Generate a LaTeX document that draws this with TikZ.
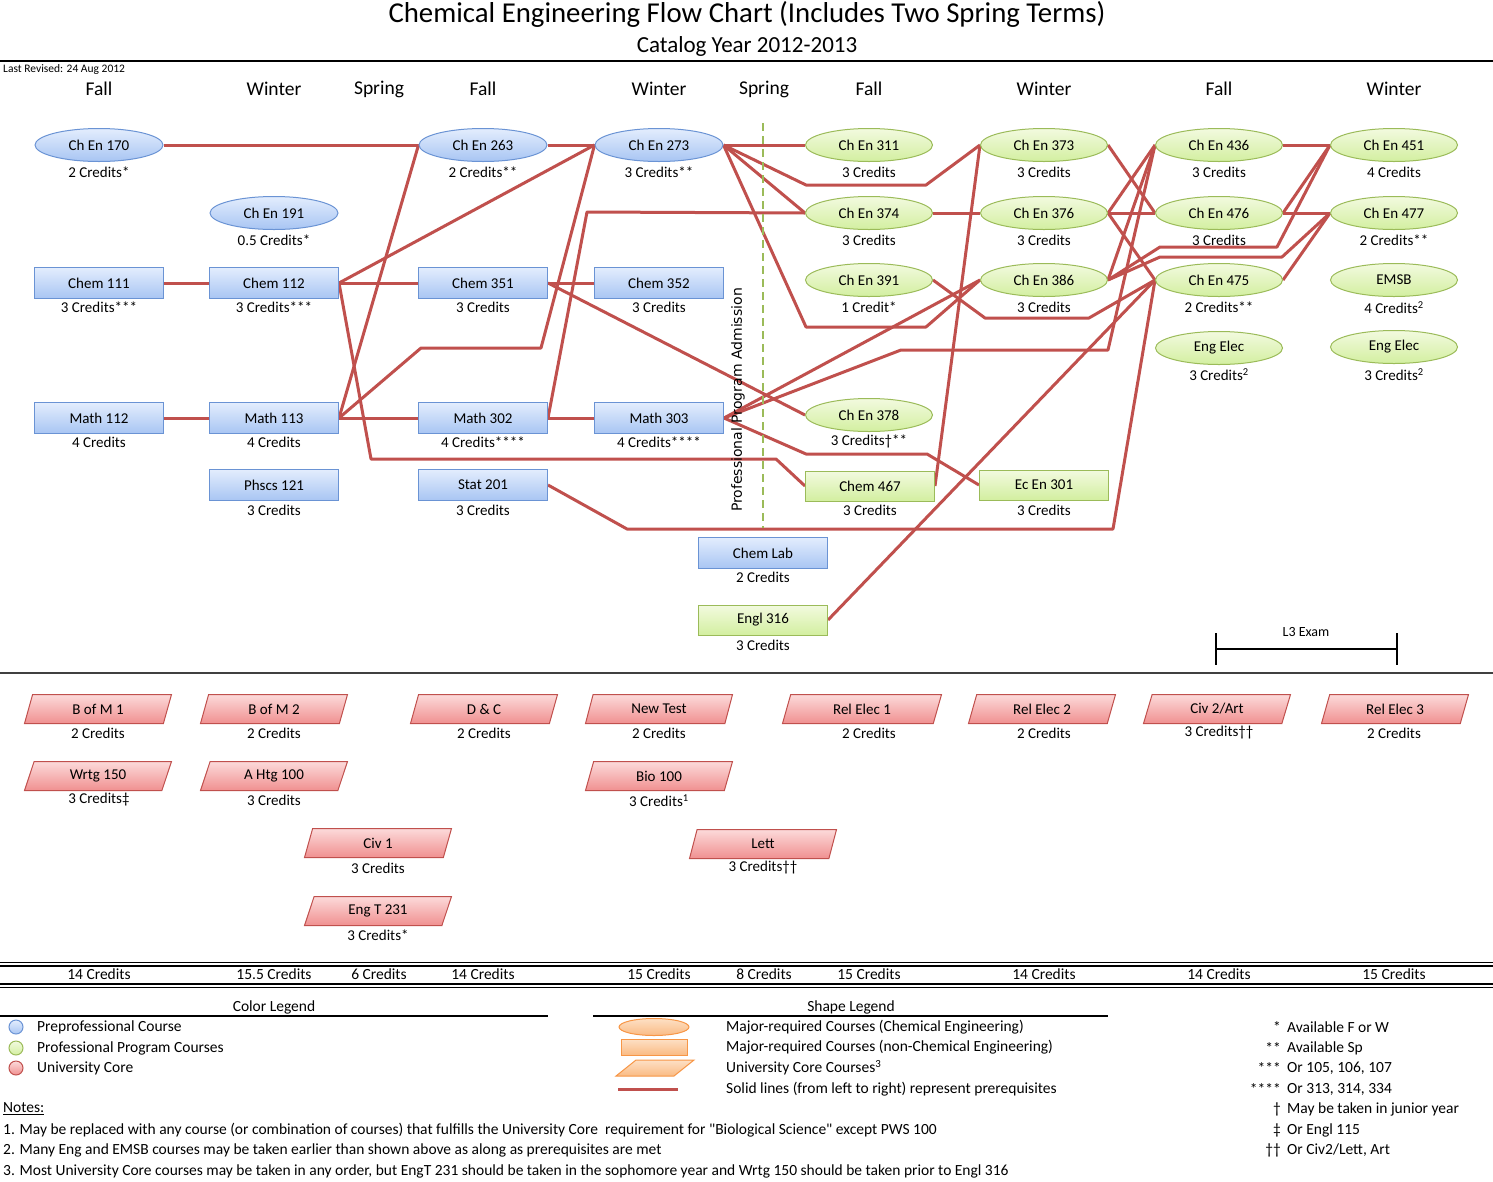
\documentclass[tikz,border=0pt]{standalone}
\usepackage{fontspec}
\setmainfont{Carlito}
\newfontfamily\carlplain{Carlito}
\newfontfamily\dejavu{DejaVu Sans}
\usetikzlibrary{shapes.geometric}
\pgfdeclarelayer{bg}
\pgfsetlayers{bg,main}
\definecolor{blueborder}{HTML}{6A93D4}
\definecolor{bluetop}{HTML}{E3EDFD}
\definecolor{bluebot}{HTML}{A8C5F3}
\definecolor{greenborder}{HTML}{9BBB59}
\definecolor{greentop}{HTML}{F2FADF}
\definecolor{greenbot}{HTML}{D3EFA0}
\definecolor{redborder}{HTML}{C0504D}
\definecolor{redtop}{HTML}{FCDADA}
\definecolor{redbot}{HTML}{F09090}
\definecolor{oraborder}{HTML}{F79646}
\definecolor{oratop}{HTML}{FDE0C5}
\definecolor{orabot}{HTML}{FABB84}
\definecolor{conncol}{HTML}{C0504D}
\definecolor{rulegray}{HTML}{404040}
\begin{document}
\begin{tikzpicture}[x=1pt,y=-1pt,
  base/.style={font=\fontsize{15}{18}\selectfont, inner sep=0pt, line width=1pt},
  bell/.style={base, ellipse, draw=blueborder, top color=bluetop, bottom color=bluebot, minimum width=128, minimum height=33},
  brect/.style={base, rectangle, draw=blueborder, top color=bluetop, bottom color=bluebot, minimum width=129, minimum height=31},
  gell/.style={base, ellipse, draw=greenborder, top color=greentop, bottom color=greenbot, minimum width=127, minimum height=33},
  grect/.style={base, rectangle, draw=greenborder, top color=greentop, bottom color=greenbot, minimum width=129, minimum height=30},
  core/.style={base, trapezium, trapezium left angle=52, trapezium right angle=128, trapezium stretches body, draw=redborder, top color=redtop, bottom color=redbot, minimum width=147, minimum height=29},
  cred/.style={font=\fontsize{15}{18}\selectfont, inner sep=0pt},
  season/.style={font=\fontsize{19.5}{22}\selectfont, inner sep=0pt},
  tot/.style={font=\fontsize{15.5}{18}\selectfont, inner sep=0pt},
  txt/.style={font=\fontsize{15.5}{18}\selectfont, inner sep=0pt, anchor=west},
  conn/.style={draw=conncol, line width=3pt, line join=round}
]
\useasboundingbox (0,0) rectangle (1493,1181);

% Titles
\node[inner sep=0pt, font=\fontsize{28.8}{32}\selectfont] (title) at (747,14) {Chemical Engineering Flow Chart (Includes Two Spring Terms)};
\node[inner sep=0pt, font=\fontsize{23}{26}\selectfont] (subtitle) at (747,46) {Catalog Year 2012-2013};
\draw[line width=2.5pt] (0,61) -- (1493,61);
\node[inner sep=0pt, anchor=west, font=\fontsize{11.5}{13}\selectfont] (rev) at (3,69) {Last Revised: 24 Aug 2012};

% Seasons
\node[season] (s1) at (99,89) {Fall};
\node[season] (s2) at (274,89) {Winter};
\node[season] (s3) at (379,89) {Spring};
\node[season] (s4) at (483,89) {Fall};
\node[season] (s5) at (659,89) {Winter};
\node[season] (s6) at (764,89) {Spring};
\node[season] (s7) at (869,89) {Fall};
\node[season] (s8) at (1044,89) {Winter};
\node[season] (s9) at (1219,89) {Fall};
\node[season] (s10) at (1394,89) {Winter};

% Professional program admission divider
\draw[greenborder, line width=2pt, dash pattern=on 8pt off 5pt] (763,123) -- (763,528);
\node[rotate=90, inner sep=0pt, font=\dejavu\fontsize{14}{16}\selectfont] (ppa) at (738,400) {Professional Program Admission};

% Blue ellipses
\node[bell] (ce170) at (99,145) {Ch En 170};
\node[cred] (ce170c) at (99,172) {2 Credits*};
\node[bell] (ce191) at (274,213) {Ch En 191};
\node[cred] (ce191c) at (274,240) {0.5 Credits*};
\node[bell] (ce263) at (483,145) {Ch En 263};
\node[cred] (ce263c) at (483,172) {2 Credits**};
\node[bell] (ce273) at (659,145) {Ch En 273};
\node[cred] (ce273c) at (659,172) {3 Credits**};

% Blue rectangles
\node[brect] (ch111) at (99,283) {Chem 111};
\node[cred] (ch111c) at (99,307) {3 Credits***};
\node[brect] (ch112) at (274,283) {Chem 112};
\node[cred] (ch112c) at (274,307) {3 Credits***};
\node[brect] (ch351) at (483,283) {Chem 351};
\node[cred] (ch351c) at (483,307) {3 Credits};
\node[brect] (ch352) at (659,283) {Chem 352};
\node[cred] (ch352c) at (659,307) {3 Credits};
\node[brect] (m112) at (99,418) {Math 112};
\node[cred] (m112c) at (99,442) {4 Credits};
\node[brect] (m113) at (274,418) {Math 113};
\node[cred] (m113c) at (274,442) {4 Credits};
\node[brect] (m302) at (483,418) {Math 302};
\node[cred] (m302c) at (483,442) {4 Credits****};
\node[brect] (m303) at (659,418) {Math 303};
\node[cred] (m303c) at (659,442) {4 Credits****};
\node[brect] (ph121) at (274,485) {Phscs 121};
\node[cred] (ph121c) at (274,510) {3 Credits};
\node[brect] (st201) at (483,485) {Stat 201};
\node[cred] (st201c) at (483,510) {3 Credits};
\node[brect] (chlab) at (763,553) {Chem Lab};
\node[cred] (chlabc) at (763,577) {2 Credits};

% Green ellipses
\node[gell] (ce311) at (869,145) {Ch En 311};
\node[cred] (ce311c) at (869,172) {3 Credits};
\node[gell] (ce374) at (869,213) {Ch En 374};
\node[cred] (ce374c) at (869,240) {3 Credits};
\node[gell] (ce391) at (869,280) {Ch En 391};
\node[cred] (ce391c) at (869,307) {1 Credit*};
\node[gell] (ce378) at (869,415) {Ch En 378};
\node[cred] (ce378c) at (869,441) {3 Credits†**};
\node[gell] (ce373) at (1044,145) {Ch En 373};
\node[cred] (ce373c) at (1044,172) {3 Credits};
\node[gell] (ce376) at (1044,213) {Ch En 376};
\node[cred] (ce376c) at (1044,240) {3 Credits};
\node[gell] (ce386) at (1044,280) {Ch En 386};
\node[cred] (ce386c) at (1044,307) {3 Credits};
\node[gell] (ce436) at (1219,145) {Ch En 436};
\node[cred] (ce436c) at (1219,172) {3 Credits};
\node[gell] (ce476) at (1219,213) {Ch En 476};
\node[cred] (ce476c) at (1219,240) {3 Credits};
\node[gell] (ce475) at (1219,280) {Ch En 475};
\node[cred] (ce475c) at (1219,307) {2 Credits**};
\node[gell] (ee1) at (1219,348) {Eng Elec};
\node[cred] (ee1c) at (1219,375) {3 Credits\textsuperscript{2}};
\node[gell] (ce451) at (1394,145) {Ch En 451};
\node[cred] (ce451c) at (1394,172) {4 Credits};
\node[gell] (ce477) at (1394,213) {Ch En 477};
\node[cred] (ce477c) at (1394,240) {2 Credits**};
\node[gell] (emsb) at (1394,280) {EMSB};
\node[cred] (emsbc) at (1394,308) {4 Credits\textsuperscript{2}};
\node[gell] (ee2) at (1394,347) {Eng Elec};
\node[cred] (ee2c) at (1394,375) {3 Credits\textsuperscript{2}};

% Green rectangles
\node[grect] (ch467) at (870,486) {Chem 467};
\node[cred] (ch467c) at (870,510) {3 Credits};
\node[grect] (ec301) at (1044,485) {Ec En 301};
\node[cred] (ec301c) at (1044,510) {3 Credits};
\node[grect] (engl316) at (763,620) {Engl 316};
\node[cred] (engl316c) at (763,645) {3 Credits};

% Connectors
\begin{pgfonlayer}{bg}
\draw[conn] (ce170.east) -- (ce263.west);
\draw[conn] (ce263.east) -- (ce273.west);
\draw[conn] (ch111.east) -- (ch112.west);
\draw[conn] (ch112.east) -- (ch351.west);
\draw[conn] (ch112.east) -- (ce273.west);
\draw[conn] (ch112.east) -- (371,459) -- (776,459) -- (ch467.west);
\draw[conn] (m112.east) -- (m113.west);
\draw[conn] (m113.east) -- (m302.west);
\draw[conn] (m113.east) -- (ce263.west);
\draw[conn] (m113.east) -- (421,348) -- (541,348) -- (ce273.west);
\draw[conn] (ch351.east) -- (ch352.west);
\draw[conn] (ch351.east) -- (ce378.west);
\draw[conn] (m302.east) -- (m303.west);
\draw[conn] (m302.east) -- (587,212) -- (ce374.west);
\draw[conn] (st201.east) -- (627,529) -- (1113,529) -- (ce475.west);
\draw[conn] (ce273.east) -- (ce311.west);
\draw[conn] (ce273.east) -- (806,185) -- (926,185) -- (ce373.west);
\draw[conn] (ce273.east) -- (ce374.west);
\draw[conn] (ce273.east) -- (806,327) -- (926,327) -- (ce386.west);
\draw[conn] (m303.east) -- (ce386.west);
\draw[conn] (m303.east) -- (901,350) -- (1108,350) -- (ce436.west);
\draw[conn] (m303.east) -- (806,454) -- (927,454) -- (ec301.west);
\draw[conn] (ch467.east) -- (ce373.west);
\draw[conn] (engl316.east) -- (ce475.west);
\draw[conn] (ce374.east) -- (ce376.west);
\draw[conn] (ce391.east) -- (985,318) -- (1089,318) -- (ce475.west);
\draw[conn] (ce373.east) -- (ce476.west);
\draw[conn] (ce376.east) -- (ce436.west);
\draw[conn] (ce376.east) -- (ce476.west);
\draw[conn] (ce376.east) -- (ce475.west);
\draw[conn] (ce386.east) -- (ce436.west);
\draw[conn] (ce386.east) -- (1160,247) -- (1277,247) -- (ce451.west);
\draw[conn] (ce386.east) -- (1160,257) -- (1282,257) -- (ce477.west);
\draw[conn] (ce436.east) -- (ce451.west);
\draw[conn] (ce476.east) -- (ce477.west);
\draw[conn] (ce476.east) -- (ce451.west);
\draw[conn] (ce475.east) -- (ce477.west);
\end{pgfonlayer}

% L3 exam bracket
\coordinate (l3a) at (1216,649);
\coordinate (l3b) at (1397,649);
\draw[line width=2pt] (l3a) -- (l3b);
\draw[line width=2pt] (1216,633) -- (1216,665);
\draw[line width=2pt] (1397,633) -- (1397,665);
\node[inner sep=0pt, font=\fontsize{14}{17}\selectfont] (l3) at (1306,632) {L3 Exam};

\draw[rulegray, line width=2.5pt] (0,673) -- (1493,673);

% University core
\node[core] (bom1) at (98,709) {B of M 1};
\node[cred] (bom1c) at (98,733) {2 Credits};
\node[core] (bom2) at (274,709) {B of M 2};
\node[cred] (bom2c) at (274,733) {2 Credits};
\node[core] (dc) at (484,709) {D \& C};
\node[cred] (dcc) at (484,733) {2 Credits};
\node[core] (nt) at (659,709) {New Test};
\node[cred] (ntc) at (659,733) {2 Credits};
\node[core, minimum width=159] (re1) at (862,709) {Rel Elec 1};
\node[cred] (re1c) at (869,733) {2 Credits};
\node[core] (re2) at (1042,709) {Rel Elec 2};
\node[cred] (re2c) at (1044,733) {2 Credits};
\node[core] (civ2) at (1217,709) {Civ 2/Art};
\node[cred] (civ2c) at (1219,733) {3 Credits††};
\node[core] (re3) at (1395,709) {Rel Elec 3};
\node[cred] (re3c) at (1394,733) {2 Credits};
\node[core] (wrtg) at (98,776) {Wrtg 150};
\node[cred] (wrtgc) at (99,800) {3 Credits‡};
\node[core] (ahtg) at (274,776) {A Htg 100};
\node[cred] (ahtgc) at (274,800) {3 Credits};
\node[core] (bio) at (659,776) {Bio 100};
\node[cred] (bioc) at (659,801) {3 Credits\textsuperscript{1}};
\node[core] (civ1) at (378,843) {Civ 1};
\node[cred] (civ1c) at (378,868) {3 Credits};
\node[core] (lett) at (763,844) {Lett};
\node[cred] (lettc) at (763,868) {3 Credits††};
\node[core] (engt) at (378,911) {Eng T 231};
\node[cred] (engtc) at (378,935) {3 Credits*};

% Totals
\draw[line width=1pt] (0,962) -- (1493,962);
\draw[line width=2pt] (0,965.5) -- (1493,965.5);
\draw[line width=2pt] (0,984) -- (1493,984);
\draw[line width=1pt] (0,987.5) -- (1493,987.5);
\node[tot] (t1) at (99,974) {14 Credits};
\node[tot] (t2) at (274,974) {15.5 Credits};
\node[tot] (t3) at (379,974) {6 Credits};
\node[tot] (t4) at (483,974) {14 Credits};
\node[tot] (t5) at (659,974) {15 Credits};
\node[tot] (t6) at (764,974) {8 Credits};
\node[tot] (t7) at (869,974) {15 Credits};
\node[tot] (t8) at (1044,974) {14 Credits};
\node[tot] (t9) at (1219,974) {14 Credits};
\node[tot] (t10) at (1394,974) {15 Credits};

% Color legend
\node[tot] (cl) at (274,1007) {Color Legend};
\draw[line width=1.2pt] (0,1016) -- (548,1016);
\node[circle, draw=blueborder, line width=1pt, top color=bluetop, bottom color=bluebot, minimum size=14, inner sep=0pt] (lgb) at (16,1027) {};
\node[circle, draw=greenborder, line width=1pt, top color=greentop, bottom color=greenbot, minimum size=14, inner sep=0pt] (lgg) at (16,1048) {};
\node[circle, draw=redborder, line width=1pt, top color=redtop, bottom color=redbot, minimum size=14, inner sep=0pt] (lgr) at (16,1068) {};
\node[txt] (lgbt) at (37,1027) {Preprofessional Course};
\node[txt] (lggt) at (37,1048) {Professional Program Courses};
\node[txt] (lgrt) at (37,1068) {University Core};

% Shape legend
\node[tot] (sl) at (851,1007) {Shape Legend};
\draw[line width=1.2pt] (593,1016) -- (1108,1016);
\node[ellipse, draw=oraborder, line width=1pt, top color=oratop, bottom color=orabot, minimum width=70, minimum height=17, inner sep=0pt] (lse) at (654,1027) {};
\node[rectangle, draw=oraborder, line width=1pt, top color=oratop, bottom color=orabot, minimum width=66, minimum height=16, inner sep=0pt] (lsr) at (654,1047) {};
\draw[draw=oraborder, line width=1pt, top color=oratop, bottom color=orabot] (616,1076) -- (636,1060) -- (694,1060) -- (674,1076) -- cycle;
\coordinate (lsla) at (618,1089);
\coordinate (lslb) at (678,1089);
\draw[conn] (lsla) -- (lslb);
\node[txt] (lset) at (726,1027) {Major-required Courses (Chemical Engineering)};
\node[txt] (lsrt) at (726,1047) {Major-required Courses (non-Chemical Engineering)};
\node[txt] (lspt) at (726,1068) {University Core Courses\textsuperscript{3}};
\node[txt] (lslt) at (726,1089) {Solid lines (from left to right) represent prerequisites};

% Footnote keys
\node[tot, anchor=east] (k1) at (1281,1027) {*};
\node[txt] (k1t) at (1287,1027) {Available F or W};
\node[tot, anchor=east] (k2) at (1281,1048) {**};
\node[txt] (k2t) at (1287,1048) {Available Sp};
\node[tot, anchor=east] (k3) at (1281,1068) {***};
\node[txt] (k3t) at (1287,1068) {Or 105, 106, 107};
\node[tot, anchor=east] (k4) at (1281,1089) {****};
\node[txt] (k4t) at (1287,1089) {Or 313, 314, 334};
\node[tot, anchor=east] (k5) at (1281,1109) {†};
\node[txt] (k5t) at (1287,1109) {May be taken in junior year};
\node[tot, anchor=east] (k6) at (1281,1130) {‡};
\node[txt] (k6t) at (1287,1130) {Or Engl 115};
\node[tot, anchor=east] (k7) at (1281,1150) {††};
\node[txt] (k7t) at (1287,1150) {Or Civ2/Lett, Art};

% Notes
\node[txt] (notes) at (3,1109) {\underline{Notes:}};
\node[txt] (n1) at (3,1130) {1. May be replaced with any course (or combination of courses) that fulfills the University Core\ \ requirement for {\carlplain "Biological Science"} except PWS 100};
\node[txt] (n2) at (3,1150) {2. Many Eng and EMSB courses may be taken earlier than shown above as along as prerequisites are met};
\node[txt] (n3) at (3,1171) {3. Most University Core courses may be taken in any order, but EngT 231 should be taken in the sophomore year and Wrtg 150 should be taken prior to Engl 316};
\end{tikzpicture}
\end{document}
